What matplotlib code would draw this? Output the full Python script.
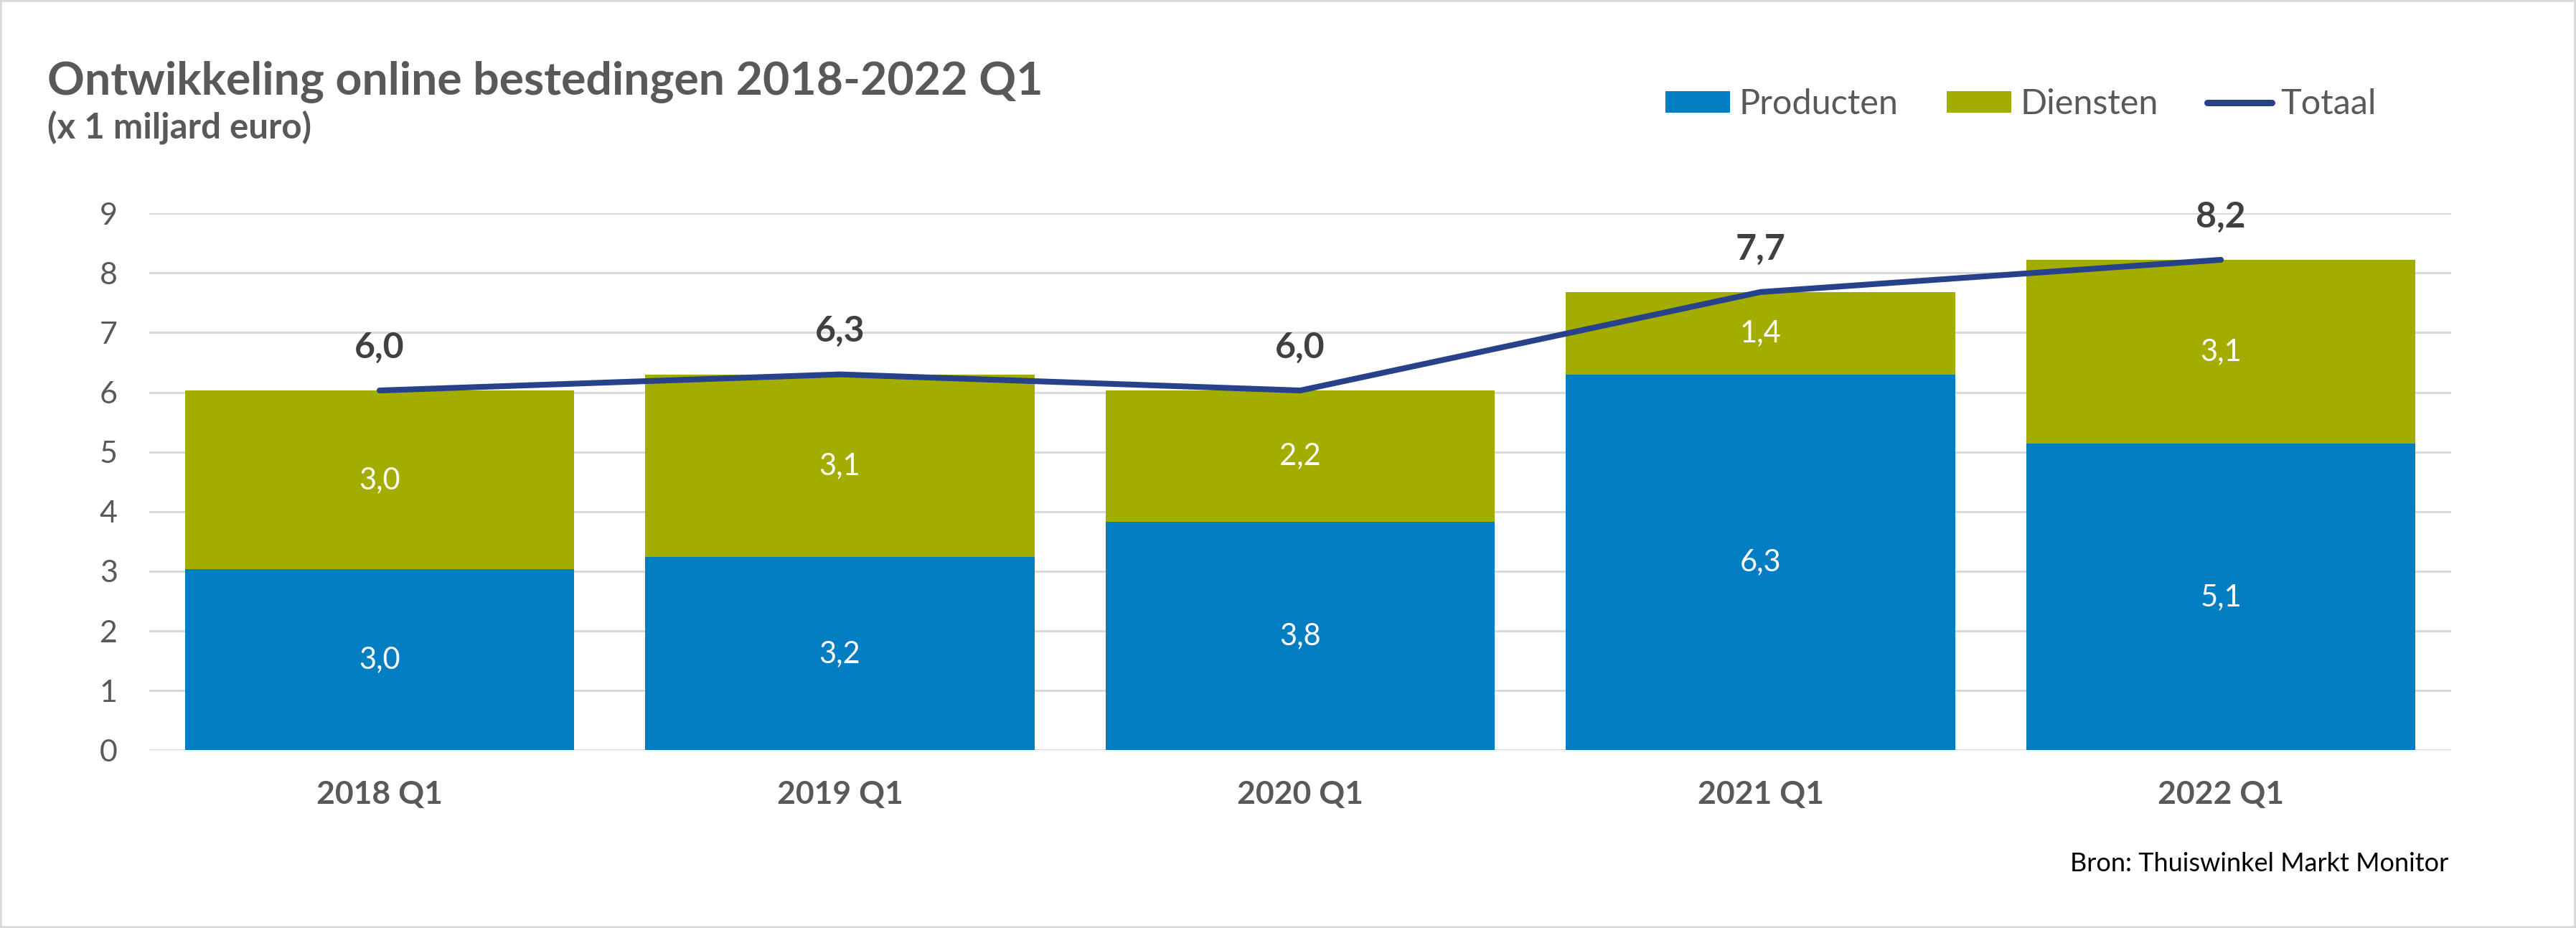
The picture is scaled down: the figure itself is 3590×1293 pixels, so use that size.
import numpy as np
import matplotlib.pyplot as plt
from matplotlib.patches import Patch, Rectangle
from matplotlib.lines import Line2D

plt.rcParams['font.family'] = ['Lato', 'DejaVu Sans']

# Gegevens (x 1 miljard euro)
kwartalen = ['2018 Q1', '2019 Q1', '2020 Q1', '2021 Q1', '2022 Q1']
producten = [3.03, 3.24, 3.83, 6.30, 5.14]
diensten = [3.00, 3.06, 2.20, 1.38, 3.08]
totaal = [p + d for p, d in zip(producten, diensten)]

kleur_producten = '#037EC3'
kleur_diensten = '#A3AD00'
kleur_totaal = '#27418A'
grijs = '#595959'


def fmt(v):
    return f"{v:.1f}".replace('.', ',')


fig = plt.figure(figsize=(35.9, 12.93), dpi=100)
fig.patches.append(Rectangle((0, 0), 1, 1, transform=fig.transFigure,
                             fill=False, edgecolor='#D9D9D9', linewidth=4))

ax = fig.add_axes([0.058, 0.1915, 0.8935, 0.5787])
x = np.arange(len(kwartalen))
breedte = 0.846

ax.bar(x, producten, breedte, color=kleur_producten, linewidth=0, zorder=2)
ax.bar(x, diensten, breedte, bottom=producten, color=kleur_diensten,
       linewidth=0, zorder=2)
ax.plot(x, totaal, color=kleur_totaal, linewidth=5.8, solid_capstyle='round',
        zorder=3)

for i in range(len(x)):
    ax.text(x[i], producten[i] / 2, fmt(producten[i]), color='white',
            ha='center', va='center', fontsize=30, zorder=4)
    ax.text(x[i], producten[i] + diensten[i] / 2, fmt(diensten[i]),
            color='white', ha='center', va='center', fontsize=30, zorder=4)
    ax.annotate(fmt(totaal[i]), (x[i], totaal[i]), xytext=(0, 27),
                textcoords='offset points', ha='center', va='bottom',
                fontsize=36, fontweight='bold', color='#404040', zorder=4)

ax.set_xlim(-0.5, len(x) - 0.5)
ax.set_ylim(0, 9)
ax.set_yticks(range(0, 10))
ax.set_xticks(x)
ax.set_xticklabels(kwartalen, fontsize=32, fontweight='bold', color=grijs)
ax.tick_params(axis='y', labelsize=31, labelcolor=grijs, length=0, pad=32)
ax.tick_params(axis='x', length=0, pad=30)
ax.grid(axis='y', color='#D9D9D9', linewidth=2.2, zorder=0)
ax.set_axisbelow(True)
for s in ax.spines.values():
    s.set_visible(False)

fig.text(0.0185, 0.899, 'Ontwikkeling online bestedingen 2018-2022 Q1',
         fontsize=46.4, fontweight='bold', color=grijs, ha='left',
         va='baseline')
fig.text(0.0185, 0.851, '(x 1 miljard euro)', fontsize=35.5,
         fontweight='bold', color=grijs, ha='left', va='baseline')
fig.text(0.9505, 0.0695, 'Bron: Thuiswinkel Markt Monitor', fontsize=26,
         color='black', ha='right', va='center')

handles = [Patch(color=kleur_producten, linewidth=0),
           Patch(color=kleur_diensten, linewidth=0),
           Line2D([0], [0], color=kleur_totaal, linewidth=6.5,
                  solid_capstyle='round')]
fig.legend(handles, ['Producten', 'Diensten', 'Totaal'], ncol=3,
           loc='center', bbox_to_anchor=(0.7845, 0.888), frameon=False,
           fontsize=35, handlelength=1.85, handleheight=0.57,
           handletextpad=0.25, columnspacing=1.4, labelcolor=grijs)

fig.savefig('out.png', dpi=100)
